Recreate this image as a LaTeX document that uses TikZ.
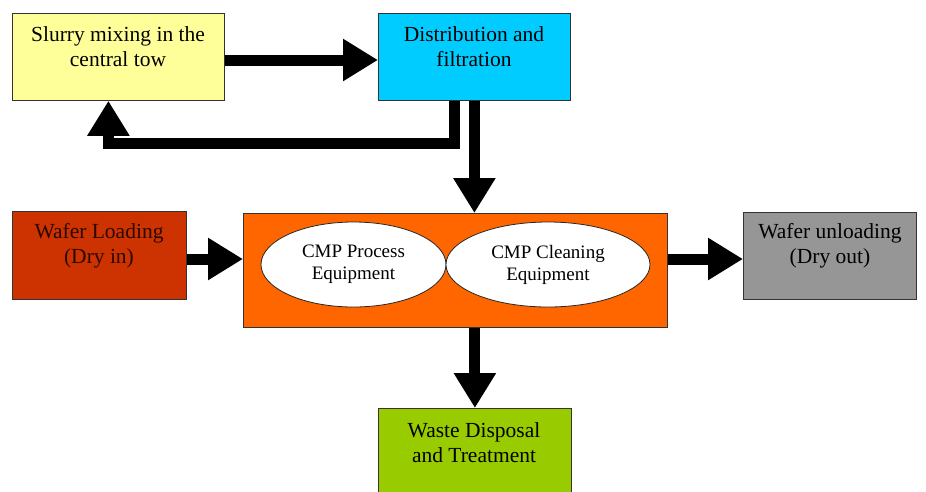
\documentclass[tikz,border=0pt]{standalone}
\usepackage{fontspec}
\setmainfont{Liberation Serif}
\usetikzlibrary{arrows.meta,shapes.geometric}
\definecolor{slurryc}{HTML}{FFFF99}
\definecolor{distc}{HTML}{00CCFF}
\definecolor{cmpc}{HTML}{FF6600}
\definecolor{loadc}{HTML}{CC3300}
\definecolor{unloadc}{HTML}{969696}
\definecolor{wastec}{HTML}{99CC00}
\definecolor{loadtxt}{HTML}{2A0800}
\begin{document}
\begin{tikzpicture}[x=1pt,y=-1pt,
  box/.style={draw=black!80, line width=0.8pt, anchor=north west, inner sep=0pt},
  txt/.style={align=center, font=\fontsize{21.5}{25}\selectfont, inner sep=0pt},
  etxt/.style={draw=black!85, line width=0.8pt, fill=white, ellipse, inner sep=0pt,
    align=center, font=\fontsize{19}{22}\selectfont},
  flow/.style={line width=11pt, -{Triangle[width=40pt,length=35pt]}},
]
\useasboundingbox (0,0) rectangle (926,491);

% boxes
\node[box, fill=slurryc, minimum width=212pt, minimum height=87pt] (slurry) at (12,13) {};
\node[box, fill=distc, minimum width=192pt, minimum height=87pt] (dist) at (378,13) {};
\node[box, fill=cmpc, minimum width=424pt, minimum height=114pt] (cmp) at (243,213) {};
\node[box, fill=loadc, minimum width=174pt, minimum height=88pt] (load) at (12,211) {};
\node[box, fill=unloadc, minimum width=173pt, minimum height=87pt] (unload) at (743,212) {};
\node[box, fill=wastec, minimum width=193pt, minimum height=95pt] (waste) at (378,408) {};

% texts
\node[txt] (slurryt) at (118,47) {Slurry mixing in the\\central tow};
\node[txt] (distt) at (474,47) {Distribution and\\filtration};
\node[txt, text=loadtxt] (loadt) at (99,246) {Wafer Loading\\(Dry in)};
\node[txt] (unloadt) at (830,246) {Wafer unloading\\(Dry out)};
\node[txt] (wastet) at (474,443) {Waste Disposal\\and Treatment};

% ellipses
\node[etxt, minimum width=185pt, minimum height=85pt] (proc) at (353.5,264.5) {CMP Process\\Equipment};
\node[etxt, minimum width=204pt, minimum height=85pt] (clean) at (548,264.5) {CMP Cleaning\\Equipment};

% connectors
\draw[flow] (slurry.east |- 0,60) -- (dist.west |- 0,60);
\coordinate (rcorner) at ([xshift=-20pt]dist.south |- 0,143);
\draw[flow, line join=miter] ([xshift=-20pt]dist.south) -- (rcorner) -| ([xshift=-10pt]slurry.south);
\draw[flow] (dist.south) -- (dist.south |- cmp.north);
\draw[flow] (load.east |- 0,259) -- (cmp.west |- 0,259);
\draw[flow] (cmp.east |- 0,259) -- (unload.west |- 0,259);
\draw[flow] (waste.north |- cmp.south) -- (waste.north);
\end{tikzpicture}
\end{document}
